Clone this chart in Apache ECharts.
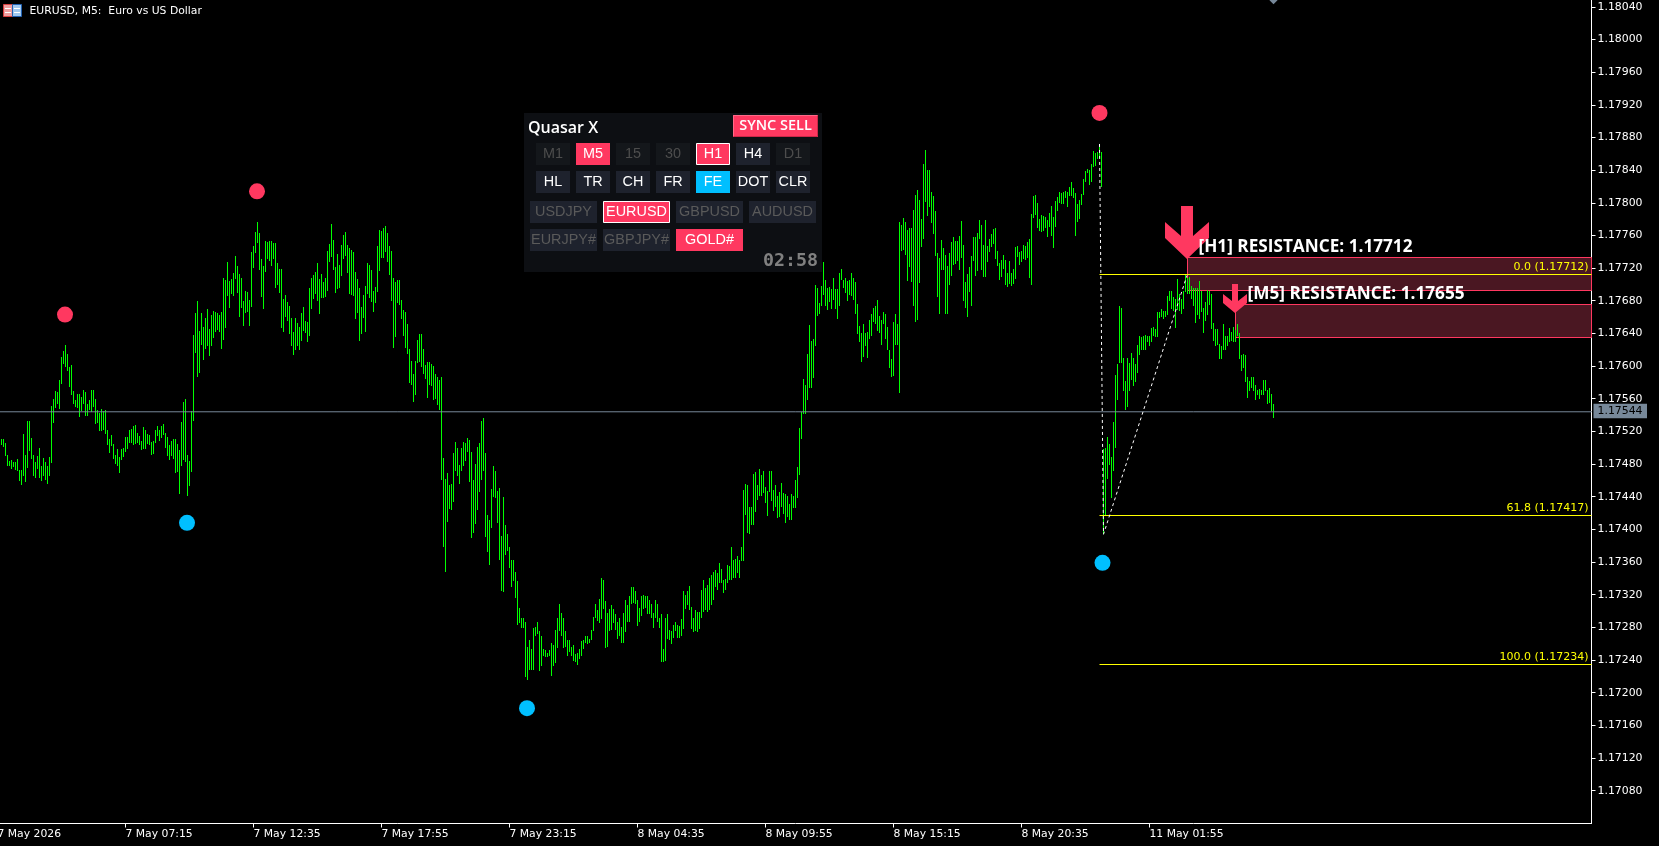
<!DOCTYPE html>
<html><head><meta charset="utf-8"><title>EURUSD M5</title>
<style>html,body{margin:0;padding:0;background:#000;overflow:hidden}#c{width:1659px;height:846px}</style>
<script src="https://cdn.jsdelivr.net/npm/echarts@6/dist/echarts.min.js"></script></head>
<body><div id="c"></div>
<script>
// bar extremes, in points above 1.17000
const barHighs=[511,511,506,491,484,485,482,482,486,473,
473,517,491,533,533,512,491,482,490,500,
478,487,482,478,489,551,560,569,568,583,
611,618,626,615,599,601,569,558,566,566,
562,571,568,553,558,571,571,560,546,542,
547,545,546,522,511,516,504,491,498,489,
498,500,513,513,522,523,527,528,518,514,
508,525,522,517,516,507,508,522,527,522,
527,529,518,513,503,508,511,511,504,497,
531,556,560,491,484,545,638,665,680,643,
665,648,659,670,645,663,667,666,665,663,
666,708,705,727,704,707,714,735,723,713,
708,680,692,691,681,740,747,764,776,763,
731,723,753,752,753,753,751,751,726,719,
719,682,687,679,674,659,642,659,653,648,
665,672,655,654,696,708,712,715,726,707,
713,703,708,741,750,774,754,721,737,724,
748,761,764,748,745,742,740,715,707,696,
672,687,698,726,724,718,692,697,747,767,
765,769,772,763,747,741,708,703,705,705,
681,669,666,652,621,606,590,606,632,639,
639,621,601,605,605,603,600,590,587,583,
587,487,462,469,454,455,493,507,500,479,
500,507,506,512,510,495,460,480,501,506,
533,536,494,418,412,449,478,472,447,451,
392,440,405,394,379,362,362,348,337,304,
291,292,286,256,264,254,279,281,287,275,
269,253,252,249,252,261,258,277,291,308,
297,291,275,265,265,256,259,247,249,253,
263,264,269,269,266,277,293,308,301,315,
340,338,312,298,302,307,303,296,286,292,
280,297,313,307,319,329,329,324,313,304,
319,320,319,319,313,309,297,313,308,292,
296,254,291,296,277,275,283,286,283,282,
290,324,320,325,331,305,292,301,299,299,
326,338,328,332,340,344,348,350,346,359,
352,338,339,356,355,378,363,364,367,363,
378,448,456,454,427,427,468,470,454,474,
467,471,452,447,471,471,448,454,441,446,
457,445,443,441,431,443,441,460,476,524,
544,584,577,615,650,631,633,699,695,677,
698,727,705,695,697,694,708,694,694,714,
719,706,708,704,705,714,708,703,676,649,
640,651,640,642,656,664,671,673,681,661,
656,666,664,648,620,609,654,664,651,776,
773,781,776,767,769,769,791,809,816,803,
780,847,865,840,840,813,808,790,738,732,
754,745,736,723,738,752,758,753,753,759,
778,748,703,713,721,735,758,758,763,779,
773,748,779,747,756,762,768,769,741,726,
730,736,730,714,729,714,719,746,747,740,
741,748,747,752,756,786,808,809,800,780,
785,784,783,779,787,796,783,802,807,813,
812,813,814,813,819,825,818,812,798,803,
811,829,839,841,840,847,863,861,862,868,
862,498,500,513,505,489,532,589,603,674,
671,610,582,610,604,616,610,602,626,637,
635,637,638,637,637,647,648,646,666,666,
670,668,668,686,692,692,685,682,707,688,
682,692,711,708,709,698,696,695,695,704,
692,671,679,693,692,688,653,646,646,627,
624,651,637,637,647,642,648,644,651,641,
613,615,614,586,582,586,586,577,571,572,
571,583,583,571,573,566,553];
const barLows=[503,501,490,478,478,474,476,473,471,459,
454,465,458,475,496,486,465,463,474,463,
459,465,460,456,465,481,530,549,553,547,
578,602,599,594,574,564,553,550,549,538,
545,553,539,539,546,544,550,529,530,520,
520,522,517,503,493,502,486,480,478,469,
485,489,495,498,506,506,503,504,506,503,
497,498,498,504,503,491,492,506,514,508,
512,516,500,490,485,490,486,469,470,443,
478,485,482,441,453,470,533,616,587,592,
626,607,621,625,612,625,634,642,644,642,
621,632,647,686,671,688,686,707,690,660,
671,649,665,666,649,672,720,738,751,718,
685,670,715,731,729,723,731,696,699,690,
647,642,660,655,639,625,614,620,625,620,
631,643,641,630,637,670,682,688,680,664,
683,683,685,692,727,734,718,690,694,696,
710,731,735,714,688,687,686,658,665,631,
639,659,642,688,683,679,666,677,691,716,
732,732,740,727,712,680,622,636,677,675,
658,637,622,615,579,577,556,565,604,605,
599,590,584,561,577,576,559,560,552,546,
460,379,348,409,425,424,433,471,465,455,
471,478,484,495,458,389,396,406,424,446,
460,471,391,372,356,402,440,438,408,363,
324,323,369,373,353,329,337,316,283,285,
279,279,219,215,228,228,228,269,272,227,
233,245,244,244,245,221,233,236,255,275,
270,255,256,245,250,245,239,238,234,241,
245,253,261,260,261,264,275,291,288,285,
290,303,255,256,276,277,285,277,266,269,
261,261,274,287,286,308,310,309,282,287,
294,303,304,296,296,291,279,291,287,279,
237,237,239,266,264,260,267,275,267,267,
269,278,303,307,301,278,274,275,274,278,
291,299,301,299,301,307,313,330,326,334,
334,322,326,334,338,338,340,340,346,341,
361,361,418,396,394,405,405,421,436,441,
441,445,432,416,446,435,423,427,414,415,
427,419,408,415,412,412,426,426,438,467,
511,541,541,558,573,573,585,625,661,664,
673,687,673,669,678,670,681,670,658,673,
705,695,689,680,687,686,681,664,639,629,
605,611,624,610,633,637,654,651,643,640,
626,651,633,620,598,587,588,626,626,567,
741,742,736,704,721,703,674,654,656,702,
746,756,801,784,795,775,762,735,685,664,
718,718,664,664,699,710,724,725,729,718,
732,680,671,660,691,674,729,710,716,756,
718,709,709,727,740,746,749,731,723,705,
709,719,699,697,701,698,701,707,734,724,
727,731,730,732,708,699,781,785,769,765,
764,765,769,758,770,759,745,770,790,800,
798,798,806,795,808,808,806,759,776,780,
797,809,825,836,822,825,844,845,853,855,
819,394,418,462,479,438,471,500,559,604,
604,570,546,550,570,583,575,581,592,614,
620,620,620,630,625,629,637,636,636,659,
660,658,660,662,680,670,668,647,669,668,
664,670,691,688,688,682,673,653,663,658,
666,640,655,662,675,646,631,624,626,609,
609,620,620,625,630,631,630,630,637,609,
594,598,581,561,570,573,569,559,565,560,
564,565,570,554,555,545,537];
const timeBars=[-2,62,126,190,254,318,382,446,510,574];
const timeLabels=['7 May 2026','7 May 07:15','7 May 12:35','7 May 17:55','7 May 23:15','8 May 04:35','8 May 09:55','8 May 15:15','8 May 20:35','11 May 01:55'];
const priceTicks=[1.1804,1.18,1.1796,1.1792,1.1788,1.1784,1.178,1.1776,1.1772,1.1768,1.1764,1.176,1.1756,1.1752,1.1748,1.1744,1.174,1.1736,1.1732,1.1728,1.1724,1.172,1.1716,1.1712,1.1708];
const currentPrice=1.17544;
const fibStartBar=549;
const fibLevels=[['0.0',1.17712],['61.8',1.17417],['100.0',1.17234]];
const zoneStarts=[592.75,616.75];
const zoneTops=[1.17733,1.17676];
const zoneBottoms=[1.17693,1.17636];
const arrowBars=[592.75,616.75];
const arrowPrices=[1.17731,1.17665];
const arrowLabels=['[H1] RESISTANCE: 1.17712','[M5] RESISTANCE: 1.17655'];
const sellDots=[[31.75,1.17663],[127.75,1.17814],[549,1.1791]];
const buyDots=[[92.75,1.17408],[262.75,1.17181],[550.5,1.17359]];
const fibTrend=[[549,1.17872],[551,1.17394],[592.75,1.17711]];
const lastBarMark=[[636,1.18048]];
const chartTitle='EURUSD, M5:  Euro vs US Dollar';

const RED='#ff3860',BLUE='#00bfff',YEL='#ffff00',SLATE='#778899';
const FONT='"DejaVu Sans"';
const price=p=>1.17+p/100000;
const bars=barHighs.map((h,i)=>[i,price(barLows[i]),price(h)]);
const arrowShapes=[
 [[-6,-53],[6,-53],[6,-23],[22,-37],[22,-21],[0,0],[-22,-21],[-22,-37],[-6,-23]],
 [[-3,-29],[3,-29],[3,-12],[12,-19],[12,-10],[0,0],[-12,-10],[-12,-19],[-3,-12]]];
const arrowLabelOffset=[[11.5,-11.5],[12.5,-19]];

// control panel
const pg=[];
const box=(x,y,w,h,fill,stroke)=>pg.push({type:'rect',z:100,silent:true,shape:{x,y,width:w,height:h},style:{fill,stroke:stroke||null,lineWidth:stroke?1:0}});
const txt=(x,y,t,fill,font,align)=>pg.push({type:'text',z:101,silent:true,x,y,style:{text:t,fill,font,align:align||'center',verticalAlign:'middle'}});
box(524,113,298,159,'#0d0f13');
txt(528,128,'Quasar X','#ffffff','600 16px "Open Sans"','left');
box(733,115,85,22,RED);
pg.push({type:'polyline',z:100,silent:true,shape:{points:[[733.5,136.5],[733.5,115.5],[817.5,115.5]]},style:{stroke:'#ff6a88',lineWidth:1,fill:null}});
pg.push({type:'polyline',z:100,silent:true,shape:{points:[[733.5,136.5],[817.5,136.5],[817.5,115.5]]},style:{stroke:'#cc2848',lineWidth:1,fill:null}});
txt(775.5,126,'SYNC SELL','#ffffff','600 14.5px "Open Sans"');
const BF='14.4px "Liberation Sans"';
const btnStyle={dim:['#14171b','#4d4d4d'],on:[RED,'#fff'],sel:[RED,'#fff','#fff'],nor:['#1e222d','#fff'],fe:[BLUE,'#fff'],off:['#1e222d','#5a5a5a']};
const row1=[['M1','dim'],['M5','on'],['15','dim'],['30','dim'],['H1','sel'],['H4','nor'],['D1','dim']];
const row2=[['HL','nor'],['TR','nor'],['CH','nor'],['FR','nor'],['FE','fe'],['DOT','nor'],['CLR','nor']];
const row3=[['USDJPY','off'],['EURUSD','sel'],['GBPUSD','off'],['AUDUSD','off']];
const row4=[['EURJPY#','off'],['GBPJPY#','off'],['GOLD#','on']];
const drawBtn=(b,x,y,w,h)=>{const s=btnStyle[b[1]];
 if(s[2])box(x+.5,y+.5,w-1,h-1,s[0],s[2]);else box(x,y,w,h,s[0]);
 txt(x+w/2,y+h/2+.5,b[0],s[1],BF);};
row1.forEach((b,i)=>drawBtn(b,536+40*i,143,34,22));
row2.forEach((b,i)=>drawBtn(b,536+40*i,171,34,22));
const x4=[530,603,676,749];
row3.forEach((b,i)=>drawBtn(b,x4[i],201,67,22));
row4.forEach((b,i)=>drawBtn(b,x4[i],229,67,22));
txt(818,261,'02:58','#808080','bold 18.3px "DejaVu Sans Mono"','right');
// symbol icon and title
box(3.5,4.5,9,12,'#f0a0a0','#d84040');box(12.5,4.5,9,12,'#a0c8f0','#2060b0');
[8,12].forEach(y=>{box(5,y,6,1,'#ffffff');box(14,y,6,1,'#ffffff');});
txt(29.5,11.5,chartTitle,'#ffffff','10.8px '+FONT,'left');

const chart=echarts.init(document.getElementById('c'),null,{renderer:'canvas'});
chart.setOption({
 animation:false,backgroundColor:'#000',
 grid:{left:-3,right:67.5,top:0,bottom:22.5,outerBoundsMode:'none'},
 xAxis:{type:'value',min:-2.25,max:795,splitLine:{show:false},
  axisLine:{show:true,onZero:false,lineStyle:{color:'#fff',width:1}},
  axisTick:{show:true,length:4,customValues:timeBars,lineStyle:{color:'#fff'}},
  axisLabel:{customValues:timeBars,color:'#fff',fontFamily:'DejaVu Sans',fontSize:10.8,align:'left',margin:5,
   formatter:v=>timeLabels[timeBars.indexOf(v)]}},
 yAxis:{type:'value',position:'right',min:1.170398,max:1.180483,splitLine:{show:false},
  axisLine:{show:true,onZero:false,lineStyle:{color:'#fff',width:1}},
  axisTick:{show:true,length:4,customValues:priceTicks,lineStyle:{color:'#fff'}},
  axisLabel:{customValues:priceTicks,color:'#fff',fontFamily:'DejaVu Sans',fontSize:10.9,margin:6,formatter:v=>v.toFixed(5)}},
 graphic:pg,
 series:[
  {type:'custom',name:'zones',z:1,silent:true,clip:false,coordinateSystem:'cartesian2d',
   data:zoneStarts.map((s,i)=>[s,zoneTops[i],zoneBottoms[i]]),encode:{x:0,y:[1,2]},
   renderItem(p,api){const a=api.coord([api.value(0),api.value(1)]),b=api.coord([api.value(0),api.value(2)]);
    const r=p.coordSys.x+p.coordSys.width,x=Math.round(a[0])+.5,t=Math.round(a[1])+.5,bo=Math.round(b[1])+.5;
    return {type:'rect',shape:{x,y:t,width:r-x,height:bo-t},style:{fill:'#4a1722',stroke:RED,lineWidth:1}};}},
  {type:'custom',name:'bars',z:2,silent:true,coordinateSystem:'cartesian2d',data:bars,encode:{x:0,y:[1,2]},
   renderItem(p,api){const a=api.coord([api.value(0),api.value(1)]),b=api.coord([api.value(0),api.value(2)]);
    const x=Math.floor(a[0]+.01)+.5;
    return {type:'line',shape:{x1:x,y1:Math.round(a[1]),x2:x,y2:Math.round(b[1])},style:{stroke:'#00ff00',lineWidth:1}};}},
  {type:'line',name:'current',z:3,silent:true,symbol:'none',data:[[-2.25,currentPrice],[795,currentPrice]],lineStyle:{color:SLATE,width:1}},
  {type:'custom',name:'fib',z:4,silent:true,clip:false,coordinateSystem:'cartesian2d',data:fibLevels.map(f=>[fibStartBar,f[1],f[0]]),encode:{x:0,y:1},
   renderItem(p,api){const a=api.coord([api.value(0),api.value(1)]),r=p.coordSys.x+p.coordSys.width,y=Math.floor(a[1]-.4)+.5;
    const v=api.value(1);
    return {type:'group',children:[
     {type:'line',shape:{x1:a[0],y1:y,x2:r,y2:y},style:{stroke:YEL,lineWidth:1}},
     {type:'text',x:r-3,y:y-2,style:{text:fibLevels[p.dataIndex][0]+' ('+v.toFixed(5)+')',fill:YEL,font:'11px '+FONT,align:'right',verticalAlign:'bottom'}}]};}},
  {type:'line',name:'fibTrend',z:5,silent:true,symbol:'none',data:fibTrend,lineStyle:{color:'#fff',width:1,type:[3,3]}},
  {type:'custom',name:'arrows',z:6,silent:true,clip:false,coordinateSystem:'cartesian2d',data:arrowBars.map((b,i)=>[b,arrowPrices[i]]),encode:{x:0,y:1},
   renderItem(p,api){const a=api.coord([api.value(0),api.value(1)]),i=p.dataIndex,o=arrowLabelOffset[i];
    return {type:'group',children:[
     {type:'polygon',shape:{points:arrowShapes[i].map(q=>[a[0]+q[0],a[1]+q[1]])},style:{fill:RED}},
     {type:'text',x:a[0]+o[0],y:a[1]+o[1],style:{text:arrowLabels[i],fill:'#fff',font:'bold 17.2px "Open Sans"',align:'left',verticalAlign:'middle'}}]};}},
  {type:'scatter',name:'sell',z:7,silent:true,symbolSize:16,data:sellDots,itemStyle:{color:RED,opacity:1}},
  {type:'scatter',name:'buy',z:7,silent:true,symbolSize:16,data:buyDots,itemStyle:{color:BLUE,opacity:1}},
  {type:'scatter',name:'last',z:7,silent:true,clip:true,symbol:'diamond',symbolSize:8,data:lastBarMark,itemStyle:{color:SLATE,opacity:1}},
  {type:'custom',name:'priceTag',z:8,silent:true,clip:false,coordinateSystem:'cartesian2d',data:[[795,currentPrice]],encode:{x:0,y:1},
   renderItem(p,api){const a=api.coord([api.value(0),api.value(1)]);
    return {type:'group',children:[
     {type:'rect',shape:{x:a[0]+2,y:a[1]-8,width:53.5,height:14.5},style:{fill:SLATE}},
     {type:'text',x:a[0]+6,y:a[1]-.5,style:{text:api.value(1).toFixed(5),fill:'#000',font:'10.9px '+FONT,align:'left',verticalAlign:'middle'}}]};}}
 ]
});
</script></body></html>
